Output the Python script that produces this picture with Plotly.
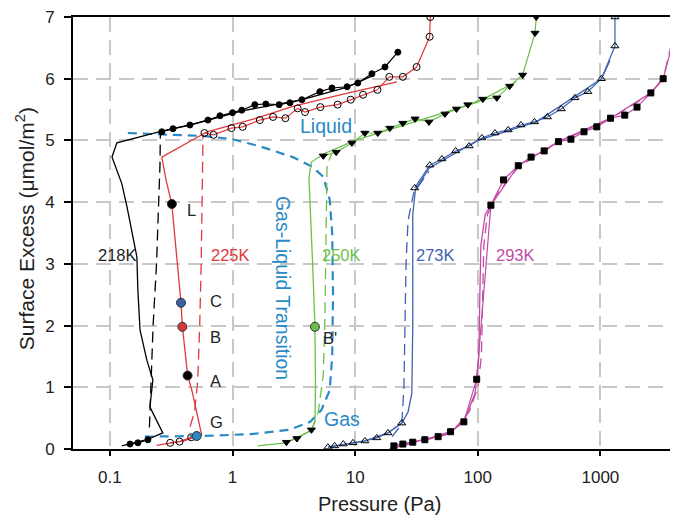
import math
import plotly.graph_objects as go

# ---------------- data ----------------
# Gas-liquid transition loop (light blue dashed)
trans_p = [0.14, 0.3, 0.6, 1.0, 1.7, 3.1, 4.5, 5.5, 6.2, 6.5, 6.6, 6.5, 6.2, 5.3, 4.3, 2.9, 1.4, 0.54, 0.175]
trans_q = [5.12, 5.10, 5.07, 5.02, 4.90, 4.73, 4.57, 4.41, 4.04, 3.5, 2.5, 1.5, 0.95, 0.63, 0.44, 0.31, 0.24, 0.21, 0.20]

# 218K
sim218_p = [0.125, 0.20, 0.27, 0.212, 0.224, 0.20, 0.176, 0.169, 0.166, 0.151, 0.138, 0.125, 0.104, 0.114, 0.265, 0.45, 1.2, 3.7, 8.5, 14]
sim218_q = [0.05, 0.15, 0.26, 0.68, 1.12, 1.44, 1.93, 2.58, 3.11, 3.55, 3.92, 4.30, 4.73, 4.96, 5.15, 5.25, 5.48, 5.66, 5.86, 6.05]
dash218_p = [0.21, 0.215, 0.225, 0.24, 0.25, 0.256, 0.258]
dash218_q = [0.35, 1.0, 2.0, 3.0, 4.0, 4.6, 5.14]
exp218_p = [0.146, 0.169, 0.204, None, 0.265, 0.327, 0.449, 0.63, 0.79, 1.0, 1.19, 1.52, 1.87, 2.4, 2.94, 3.68, 5.16, 6.47, 8.6, 10.5, 13.7, 17.5, 22.3]
exp218_q = [0.08, 0.10, 0.15, None, 5.14, 5.19, 5.25, 5.33, 5.40, 5.45, 5.49, 5.58, 5.59, 5.58, 5.61, 5.66, 5.79, 5.85, 5.87, 5.93, 6.08, 6.19, 6.43]

# 225K
sim225_p = [0.24, 0.40, 0.51, 0.56, 0.47, 0.43, 0.39, 0.38, 0.32, 0.287, 0.265, 0.62, 1.5, 3.1, 8.0, 21.9]
sim225_q = [0.06, 0.13, 0.20, 0.23, 0.92, 1.2, 1.98, 2.37, 3.96, 4.36, 4.73, 5.14, 5.35, 5.55, 5.75, 5.95]
dash225_p = [0.45, 0.49, 0.52, 0.54, 0.555, 0.565, 0.57, 0.575]
dash225_q = [0.36, 0.6, 1.1, 2.0, 3.0, 4.0, 4.6, 5.1]
exp225_p = [0.31, 0.37, 0.46, 0.51, None, 0.59, 0.70, 0.98, 1.21, 1.67, 2.14, 2.7, 3.4, 3.9, 5.2, 7.2, 9.2, 11.6, 15.2, 19.0, 24.5, 31.7, 40.5, 41.0]
exp225_q = [0.10, 0.12, 0.19, 0.22, None, 5.12, 5.09, 5.20, 5.22, 5.33, 5.38, 5.36, 5.52, 5.46, 5.54, 5.58, 5.66, 5.74, 5.82, 6.03, 6.03, 6.19, 6.68, 7.0]

# 250K
sim250_p = [1.6, 2.7, 4.4, 4.7, 4.75, 4.7, 4.5, 4.3, 4.2, 4.4, 5.5, 10, 30, 100, 206]
sim250_q = [0.05, 0.10, 0.30, 0.45, 1.0, 2.0, 3.0, 4.0, 4.4, 4.65, 4.78, 5.0, 5.3, 5.62, 5.95]
dash250_p = [4.4, 5.0, 5.5, 5.65, 5.75, 5.8, 5.9, 6.5]
dash250_q = [0.3, 0.6, 1.2, 2.0, 3.0, 4.0, 4.6, 4.8]
exp250_p = [2.75, 3.35, 4.4, None, 5.5, 7.0, 9.4, 12, 15.3, 19.2, 24.5, 30.8, 40, 54, 67, 83, 110, 143, 182, 232, 293, 300]
exp250_q = [0.11, 0.17, 0.31, None, 4.75, 4.81, 4.96, 5.12, 5.12, 5.20, 5.28, 5.35, 5.30, 5.43, 5.51, 5.58, 5.67, 5.69, 5.88, 6.06, 6.74, 7.0]

# 273K
sim273_p = [6.0, 12, 18.5, 24, 27, 29, 29.5, 29.5, 29.5, 31, 40, 100, 300, 1020, 1200]
sim273_q = [0.03, 0.13, 0.26, 0.42, 0.6, 0.9, 2.0, 3.0, 3.8, 4.2, 4.55, 5.0, 5.3, 6.0, 6.3]
dash273_p = [20, 24, 25, 25.5, 26, 27, 30, 40]
dash273_q = [0.2, 0.4, 1.0, 2.0, 3.0, 3.7, 4.15, 4.5]
exp273_p = [6.0, 6.8, 8.0, 9.6, 12, 15, 18.5, 24, None, 30.6, 40.6, 51, 66, 85, 108, 138, 177, 225, 290, 370, 480, 620, 790, 1020, 1315, 1315]
exp273_q = [0.03, 0.05, 0.08, 0.10, 0.13, 0.18, 0.26, 0.42, None, 4.23, 4.6, 4.7, 4.83, 4.91, 5.04, 5.12, 5.17, 5.25, 5.30, 5.38, 5.51, 5.69, 5.79, 6.0, 6.53, 7.0]

# 293K
sim293_p = [20, 37, 60, 77, 95, 102, 104, 106, 115, 128, 214, 455, 1210, 2580, 3250]
sim293_q = [0.05, 0.15, 0.28, 0.44, 0.9, 1.5, 2.5, 3.3, 3.8, 3.95, 4.59, 4.98, 5.36, 5.77, 6.0]
dash293_p = [19, 60, 85, 100, 107, 110, 112, 120, 140, 214, 455, 1210, 2580, 3250, 4300]
dash293_q = [0.0, 0.25, 0.6, 1.0, 1.5, 2.5, 3.3, 3.8, 4.1, 4.57, 4.97, 5.35, 5.76, 6.0, 7.0]
exp293_p = [20.7, 24.5, 29.5, 37, 47.5, 60, 77, 98, 128, 162, 214, 272, 348, 455, 575, 735, 935, 1210, 1580, 1990, 2580, 3250, 4170]
exp293_q = [0.05, 0.08, 0.11, 0.15, 0.20, 0.28, 0.44, 1.13, 3.95, 4.36, 4.59, 4.73, 4.83, 4.98, 5.02, 5.14, 5.22, 5.36, 5.41, 5.54, 5.77, 6.0, 6.8]

# state points
pt_labels = ["L", "C", "B", "A", "G"]
pt_p = [0.32, 0.38, 0.39, 0.43, 0.51, 4.7]
pt_q = [3.97, 2.37, 1.98, 1.19, 0.21, 1.98]
pt_colors = ["#000000", "#3d5fa8", "#d8383a", "#000000", "#2a8ac6", "#6cc04a"]
lab_p = [0.467, 0.733, 0.733, 0.733, 0.74]
lab_q = [3.87, 2.40, 1.815, 1.10, 0.44]
bprime_label = "B'"
bprime_p = 5.26
bprime_q = 1.80

temp_labels = ["218K", "225K", "250K", "273K", "293K"]
temp_p = [0.115, 0.97, 7.8, 44.8, 205]
temp_q = 3.14
temp_colors = ["#222222", "#e0393e", "#6cc04a", "#3f62b0", "#c24ba6"]

tick_vals = [0.1, 1, 10, 100, 1000]
tick_text = ["0.1", "1", "10", "100", "1000"]

# ---------------- figure ----------------
RED = "#e0393e"
GREEN = "#6cc04a"
BLUE = "#3f62b0"
MAG = "#c24ba6"
LBLUE = "#2a8ac6"
FONT = "Liberation Sans, Arial, sans-serif"

fig = go.Figure()

def line(p, q, color, dash="solid", width=1.3):
    fig.add_trace(go.Scatter(x=p, y=q, mode="lines", connectgaps=False,
                             line=dict(color=color, width=width, dash=dash),
                             hoverinfo="skip", showlegend=False))

def expt(p, q, color, symbol, fill, size=6):
    fig.add_trace(go.Scatter(x=p, y=q, mode="lines+markers", connectgaps=False,
                             line=dict(color=color, width=1.2),
                             marker=dict(symbol=symbol, size=size, color=fill,
                                         line=dict(color="black", width=1)),
                             hoverinfo="skip", showlegend=False))

LDASH = "11px,6px"
line(trans_p, trans_q, LBLUE, "9px,6px", 2.2)

line(sim218_p, sim218_q, "black")
line(dash218_p, dash218_q, "black", LDASH)
line(sim225_p, sim225_q, RED)
line(dash225_p, dash225_q, RED, LDASH)
line(sim250_p, sim250_q, GREEN)
line(dash250_p, dash250_q, GREEN, LDASH)
line(sim273_p, sim273_q, BLUE)
line(dash273_p, dash273_q, BLUE, LDASH)
line(sim293_p, sim293_q, MAG)
line(dash293_p, dash293_q, MAG, LDASH)

expt(exp218_p, exp218_q, "black", "circle", "black", 6)
expt(exp225_p, exp225_q, RED, "circle-open", "black", 7)
expt(exp250_p, exp250_q, GREEN, "triangle-down", "black", 7)
expt(exp273_p, exp273_q, BLUE, "triangle-up-open", "black", 7)
expt(exp293_p, exp293_q, MAG, "square", "black", 6)

fig.add_trace(go.Scatter(x=pt_p, y=pt_q, mode="markers",
                         marker=dict(size=9, color=pt_colors, line=dict(color="#333333", width=1)),
                         hoverinfo="skip", showlegend=False))

ann = []
for t, p, q in zip(pt_labels, lab_p, lab_q):
    ann.append(dict(x=math.log10(p), y=q, xref="x", yref="y", text=t, showarrow=False,
                    font=dict(family=FONT, size=16.5, color="#222222"), xanchor="center"))
ann.append(dict(x=math.log10(bprime_p), y=bprime_q, xref="x", yref="y", text=bprime_label,
                showarrow=False, xanchor="left",
                font=dict(family=FONT, size=16.5, color="#222222")))
for t, p, c in zip(temp_labels, temp_p, temp_colors):
    ann.append(dict(x=math.log10(p), y=temp_q, xref="x", yref="y", text=t, showarrow=False,
                    font=dict(family=FONT, size=16.5, color=c), xanchor="center"))
ann.append(dict(x=math.log10(5.78), y=5.23, xref="x", yref="y", text="Liquid", showarrow=False,
                font=dict(family=FONT, size=19.5, color=LBLUE)))
ann.append(dict(x=math.log10(7.8), y=0.49, xref="x", yref="y", text="Gas", showarrow=False,
                font=dict(family=FONT, size=19.5, color=LBLUE)))
ann.append(dict(x=math.log10(2.58), y=2.61, xref="x", yref="y", text="Gas-Liquid Transition",
                showarrow=False, textangle=90, font=dict(family=FONT, size=19.5, color=LBLUE)))
ann.append(dict(x=-0.08, y=0.51, xref="paper", yref="paper",
                text="Surface Excess (μmol/m<sup>2</sup>)", showarrow=False, textangle=-90,
                font=dict(family=FONT, size=21, color="#222222"), xanchor="center", yanchor="middle"))
ann.append(dict(x=0.507, y=-0.128, xref="paper", yref="paper", text="Pressure (Pa)",
                showarrow=False, font=dict(family=FONT, size=20, color="#222222"),
                xanchor="center", yanchor="middle"))

# page body has an 8px margin, so the figure is sized to fit the window from (8, 8)
fig.update_layout(
    width=670, height=509,
    margin=dict(l=65, r=0, t=9, b=68, autoexpand=False),
    paper_bgcolor="white", plot_bgcolor="white",
    font=dict(family=FONT, size=17, color="#222222"),
    annotations=ann,
    showlegend=False,
)
fig.update_xaxes(type="log", range=[math.log10(0.05), 3.633], automargin=False,
                 tickvals=tick_vals, ticktext=tick_text,
                 ticks="outside", ticklen=5, tickcolor="black", tickwidth=1.5,
                 ticklabelstandoff=7, ticklabeloverflow="allow",
                 showline=True, linecolor="black", linewidth=2, mirror=True,
                 showgrid=True, gridcolor="#c8c8c8", gridwidth=1.5, griddash="15px,8px",
                 zeroline=False, tickfont=dict(size=17, color="#222222"))
fig.update_yaxes(range=[0, 7], dtick=1, tick0=0, automargin=False,
                 ticks="outside", ticklen=7, tickcolor="black", tickwidth=1.5,
                 ticklabelstandoff=6, ticklabeloverflow="allow",
                 showline=True, linecolor="black", linewidth=2,
                 showgrid=True, gridcolor="#c8c8c8", gridwidth=1.5, griddash="15px,8px",
                 zeroline=False, tickfont=dict(size=17, color="#222222"))

fig.write_html("out.html")
